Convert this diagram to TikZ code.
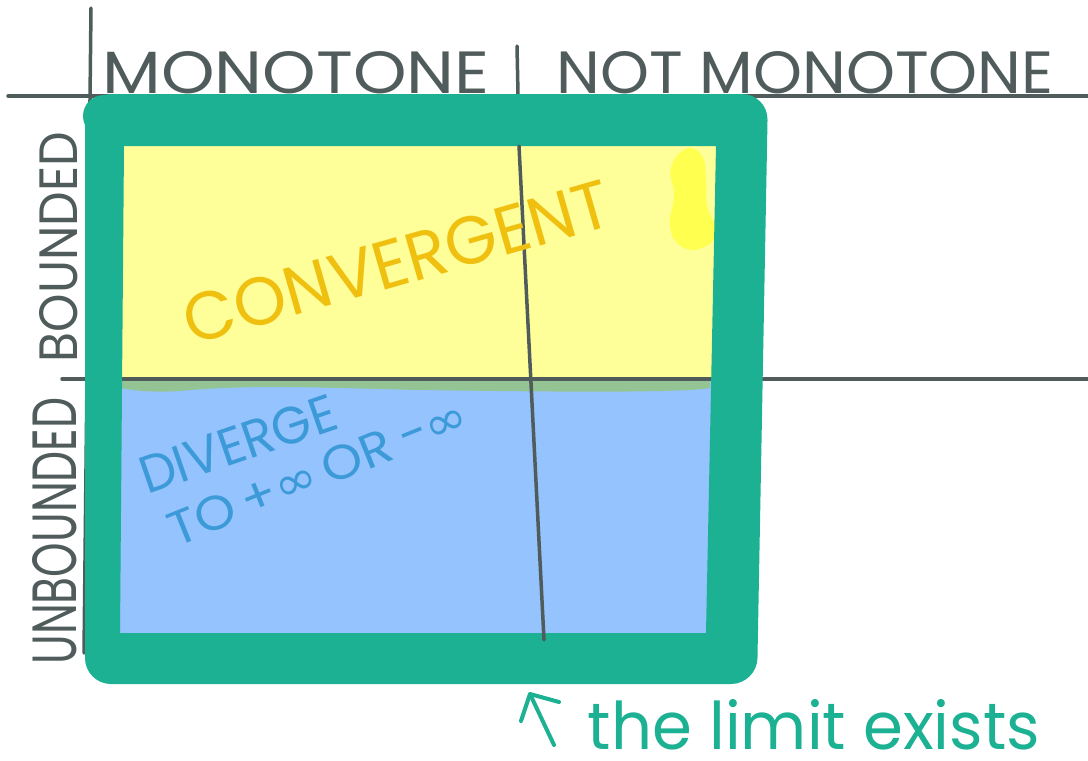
\documentclass[tikz,border=0pt]{standalone}
\usepackage{fontspec}
\usepackage{graphicx}
\setmainfont{Poppins}
\newfontfamily\symbolfont{DejaVu Sans}
\definecolor{inkgray}{HTML}{505C5B}
\definecolor{framegreen}{HTML}{1BB192}
\definecolor{paleyellow}{HTML}{FFFF99}
\definecolor{paleblue}{HTML}{94C3FD}
\definecolor{bandgreen}{HTML}{94C494}
\definecolor{blobyellow}{HTML}{FFFF4F}
\definecolor{goldtext}{HTML}{F0C010}
\definecolor{bluetext}{HTML}{3D9AD9}
\newcommand{\fitto}[3]{\resizebox{#1}{#2}{#3}}
\tikzset{
  gridline/.style={draw=inkgray, line width=3.5pt, line cap=round},
  hand/.style={inner sep=0pt, outer sep=0pt, anchor=center},
  arrowline/.style={draw=framegreen, line width=4pt, line cap=round, line join=round}
}
\begin{document}
\begin{tikzpicture}[x=1pt,y=-1pt]
\useasboundingbox (0,0) rectangle (1088,761);
% region fills
\fill[paleyellow] (120,142) rectangle (718,381);
\fill[paleblue] (116,381) rectangle (712,636);
\fill[bandgreen] (122,381) -- (710,381) -- (710,388) .. controls (680,393) and (560,392) .. (420,390)
   .. controls (330,388) and (250,384) .. (180,391) .. controls (150,393) and (130,390) .. (122,388) -- cycle;
\fill[blobyellow] plot[smooth cycle, tension=0.8] coordinates {(686,149) (702,156) (706,180) (707,206) (716,232) (702,248) (681,246) (670,226) (674,196) (671,168)};
% grid lines
\coordinate (vtop) at (91,8);
\coordinate (vbot) at (84,653);
\coordinate (htl) at (8,96);
\coordinate (htr) at (1088,96);
\coordinate (hml) at (62,379);
\coordinate (hmr) at (1088,379);
\coordinate (ttop) at (517,46);
\coordinate (tbot) at (518,94);
\draw[gridline] (vtop) -- (vbot);
\draw[gridline] (htl) -- (htr);
\draw[gridline] (hml) -- (hmr);
\draw[gridline] (ttop) -- (tbot);
% green frame
\fill[framegreen, even odd rule] [rounded corners=26pt] (85,94) -- (768,94) -- (757,684) -- (85,684) -- cycle
   [sharp corners] (124,146) -- (716,146) -- (706,633) -- (120,633) -- cycle;
\fill[framegreen] (104,116) circle (21pt);
% inner vertical line
\coordinate (itop) at (519,146);
\coordinate (ibot) at (544,640);
\draw[gridline] (itop) -- (ibot);
% header labels
\node[hand, text=inkgray] (mono) at (296,73) {\fitto{387pt}{42pt}{MONOTONE}};
\node[hand, text=inkgray] (notmono) at (805,73) {\fitto{497pt}{42pt}{NOT MONOTONE}};
\node[hand, text=inkgray, rotate=90] (bnd) at (59,247) {\fitto{230pt}{38pt}{BOUNDED}};
\node[hand, text=inkgray, rotate=90] (unbnd) at (55,531) {\fitto{267pt}{44pt}{UNBOUNDED}};
% region labels
\node[hand, text=goldtext, rotate=16] (conv) at (397,262) {\fitto{440pt}{48pt}{CONVERGENT}};
\node[hand, text=bluetext, rotate=19] (div) at (238,444) {\fitto{205pt}{37pt}{DIVERGE}};
\node[hand, text=bluetext, rotate=22] (toinf) at (318,472) {\fitto{318pt}{34pt}{TO\,+{\symbolfont ∞}\,OR\,−{\symbolfont ∞}}};
% annotation
\node[hand, text=framegreen] (limit) at (814,725) {\fitto{452pt}{50pt}{the limit exists}};
\coordinate (atail) at (554,745);
\coordinate (ahead) at (530,694);
\coordinate (barbl) at (521,721);
\coordinate (barbr) at (559,702);
\draw[arrowline] (atail) -- (ahead);
\draw[arrowline] (barbl) -- (ahead) -- (barbr);
\end{tikzpicture}
\end{document}
